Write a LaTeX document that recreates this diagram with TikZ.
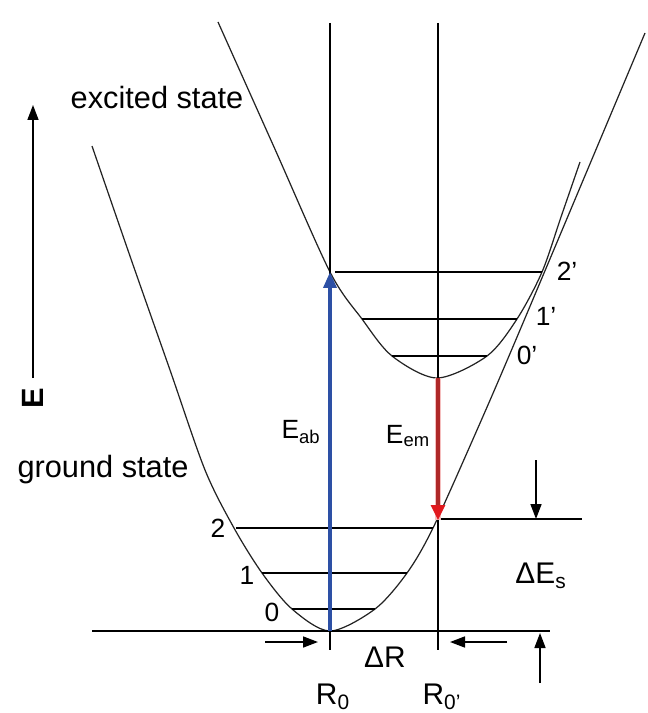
\documentclass[tikz,border=0pt]{standalone}
\usepackage{fontspec}
\setmainfont{Liberation Sans}
\usetikzlibrary{arrows.meta}
\definecolor{absblue}{RGB}{45,80,165}
\definecolor{emred}{RGB}{175,40,40}
\definecolor{tipred}{RGB}{225,25,30}
\definecolor{halored}{RGB}{245,190,190}
\definecolor{curvegray}{RGB}{35,35,35}
\tikzset{
  curve/.style={draw=curvegray, line width=0.7pt},
  lvl/.style={draw=black, line width=0.9pt},
  axis/.style={draw=black, line width=0.9pt},
  arr/.style={-{Triangle[length=3mm, width=2.2mm]}, line width=0.9pt, draw=black},
  absarr/.style={-{Triangle[length=3.2mm, width=2.6mm]}, line width=2pt, draw=absblue},
  emarr/.style={-{Triangle[length=3mm, width=2.8mm, color=tipred]}, line width=1.8pt, draw=emred,
                preaction={draw=halored, line width=3.4pt, -}},
  lbl/.style={inner sep=0pt, font=\fontsize{17.5}{20}\selectfont},
  num/.style={inner sep=0pt, font=\fontsize{15}{18}\selectfont},
  rlbl/.style={inner sep=0pt, font=\fontsize{17}{20}\selectfont}
}

\begin{document}
\begin{tikzpicture}[x=0.02cm, y=-0.02cm]
\useasboundingbox (0,0) rectangle (647,713);
% potential curves
\draw[curve] plot[smooth, tension=0.5] coordinates {(92,146) (131,259) (170,370) (205,470) (234,528) (262,573) (292,609) (330,631) (375,609) (407,573) (433,528) (477,430) (520,330) (645,33)};
\draw[curve] plot[smooth, tension=0.5] coordinates {(218,22) (274,147) (330,272) (362,319) (392,356) (437,378) (487,356) (517,319) (542,272) (561,217) (580,162)};
% R0 and R0' lines
\draw[axis] (330,23) -- (330,650);
\draw[axis] (438,23) -- (438,650);
% vibrational levels
\draw[lvl] (92,631) -- (550,631);
\draw[lvl] (292,609) -- (375,609);
\draw[lvl] (262,573) -- (407,573);
\draw[lvl] (236,528) -- (433,528);
\draw[lvl] (438,519) -- (582,519);
\draw[lvl] (392,356) -- (487,356);
\draw[lvl] (362,319) -- (517,319);
\draw[lvl] (335,272) -- (542,272);
% transitions
\coordinate (g0) at (330,631); \coordinate (e2) at (330,272);
\coordinate (e0) at (438,378); \coordinate (g2) at (438,520);
\draw[absarr] (g0) -- (e2);
\draw[emarr] (e0) -- (g2);
% energy axis
\coordinate (eLo) at (33,378); \coordinate (eHi) at (33,105);
\draw[arr] (eLo) -- (eHi);
\node[lbl, font=\fontsize{17.5}{20}\selectfont\bfseries, rotate=90] (eax) at (33,398) {E};
% shift markers
\coordinate (rL1) at (265,642); \coordinate (rL2) at (318,642);
\coordinate (rR1) at (507,642); \coordinate (rR2) at (450,642);
\coordinate (sT1) at (536,460); \coordinate (sT2) at (536,519);
\coordinate (sB1) at (540,683); \coordinate (sB2) at (540,633);
\draw[arr] (rL1) -- (rL2); \draw[arr] (rR1) -- (rR2);
\draw[arr] (sT1) -- (sT2); \draw[arr] (sB1) -- (sB2);
% labels
\node[lbl] (exc) at (157,98) {excited state};
\node[lbl] (gnd) at (103,470) {ground state};
\node[num] (v2) at (218,528) {2};
\node[num] (v1) at (247,575) {1};
\node[num] (v0) at (272,612) {0};
\node[num] (w2) at (567,271) {2'};
\node[num] (w1) at (546,316) {1'};
\node[num] (w0) at (527,355) {0'};
\node[num] (eab) at (301,432) {E\textsubscript{ab}};
\node[num] (eem) at (408,436) {E\textsubscript{em}};
\node[rlbl] (des) at (541,576) {ΔE\textsubscript{s}};
\node[rlbl] (dr) at (385,657) {ΔR};
\node[rlbl] (r0) at (333,697) {R\textsubscript{0}};
\node[rlbl] (r0p) at (442,697) {R\textsubscript{0'}};
\end{tikzpicture}
\end{document}
